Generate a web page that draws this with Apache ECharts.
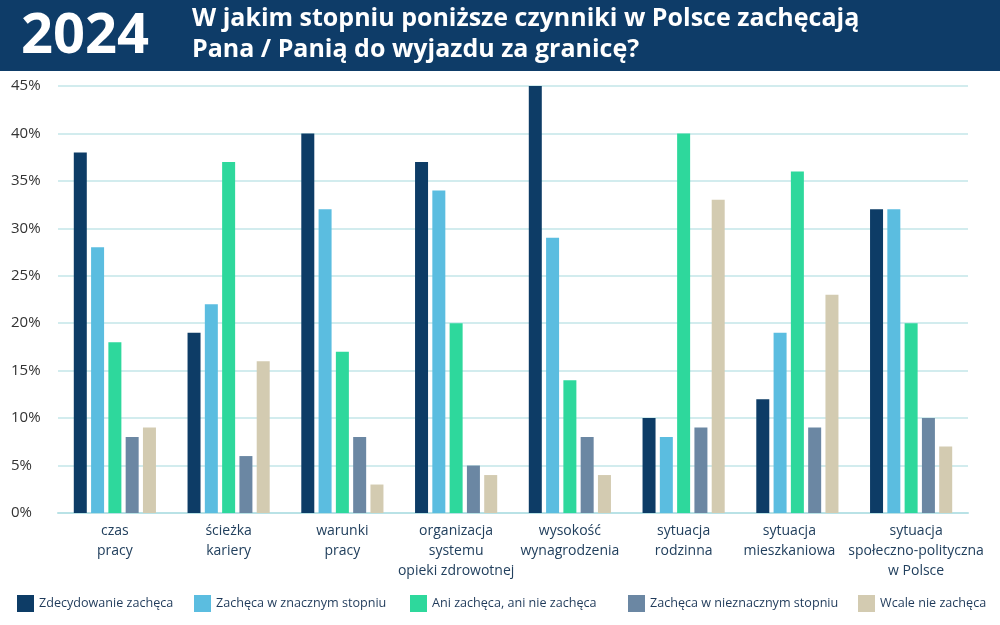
<!DOCTYPE html>
<html>
<head>
<meta charset="utf-8">
<script src="https://cdn.jsdelivr.net/npm/echarts@6/dist/echarts.min.js"></script>
<style>
  html, body { margin: 0; padding: 0; background: #fff; }
  #chart { width: 1000px; height: 625px; }
</style>
</head>
<body>
<div id="chart"></div>
<script>
// data
var categories = ['czas\npracy', 'ścieżka\nkariery', 'warunki\npracy', 'organizacja\nsystemu\nopieki zdrowotnej',
  'wysokość\nwynagrodzenia', 'sytuacja\nrodzinna', 'sytuacja\nmieszkaniowa', 'sytuacja\nspołeczno-polityczna\nw Polsce'];
var seriesNames = ['Zdecydowanie zachęca', 'Zachęca w znacznym stopniu', 'Ani zachęca, ani nie zachęca',
  'Zachęca w nieznacznym stopniu', 'Wcale nie zachęca'];
var zdecydowanie = [38, 19, 40, 37, 45, 10, 12, 32];
var znacznym = [28, 22, 32, 34, 29, 8, 19, 32];
var ani = [18, 37, 17, 20, 14, 40, 36, 20];
var nieznacznym = [8, 6, 8, 5, 8, 9, 9, 10];
var wcale = [9, 16, 3, 4, 4, 33, 23, 7];
var colors = ['#0d3c66', '#5bbde0', '#2ed89c', '#6b87a3', '#d3cbb1'];
var legendLeft = [12, 189, 405, 623, 853];

var chart = echarts.init(document.getElementById('chart'));

var values = [zdecydowanie, znacznym, ani, nieznacznym, wcale];
var series = values.map(function (v, i) {
  return {
    name: seriesNames[i],
    type: 'bar',
    data: v,
    barWidth: 13,
    barGap: '33%',
    itemStyle: { color: colors[i] }
  };
});

var legends = seriesNames.map(function (n, i) {
  return {
    data: [n],
    left: legendLeft[i],
    top: 590,
    itemWidth: 17,
    itemHeight: 17,
    itemGap: 0,
    icon: 'rect',
    textStyle: { fontFamily: 'Open Sans', fontSize: 12.6, color: '#1f3a5a' }
  };
});

// labels of the last two groups sit a bit apart in the reference
var catData = categories.map(function (c, i) {
  if (i === 6) return { value: c, textStyle: { padding: [0, 16, 0, 0] } };
  if (i === 7) return { value: c, textStyle: { padding: [0, 0, 0, 10] } };
  return c;
});

var option = {
  animation: false,
  textStyle: { fontFamily: 'Open Sans' },
  graphic: [
    { type: 'rect', shape: { x: 0, y: 0, width: 1000, height: 71 }, style: { fill: '#0e3c68' }, z: 0 },
    { type: 'text', left: 21, top: 9, style: { text: '2024', fill: '#fff', font: 'bold 56px "Open Sans"' } },
    { type: 'text', left: 192, top: 3, style: {
      text: 'W jakim stopniu poniższe czynniki w Polsce zachęcają\nPana / Panią do wyjazdu za granicę?',
      fill: '#fff', font: 'bold 25px "Open Sans"', lineHeight: 31 } }
  ],
  legend: legends,
  grid: { left: 58, right: 32, top: 86, bottom: 112 },
  xAxis: {
    type: 'category',
    data: catData,
    axisLine: { lineStyle: { color: '#b9e2e6', width: 2 } },
    axisTick: { show: false },
    axisLabel: { fontSize: 14, color: '#22405e', lineHeight: 20, margin: 8, interval: 0 }
  },
  yAxis: {
    type: 'value',
    min: 0,
    max: 45,
    interval: 5,
    axisLine: { show: false },
    axisTick: { show: false },
    splitLine: { lineStyle: { color: '#c3e6e8', width: 1.5 } },
    axisLabel: {
      formatter: '{value}%',
      fontSize: 15,
      color: '#333',
      align: 'left',
      margin: 47
    }
  },
  series: series
};

chart.setOption(option);
</script>
</body>
</html>
